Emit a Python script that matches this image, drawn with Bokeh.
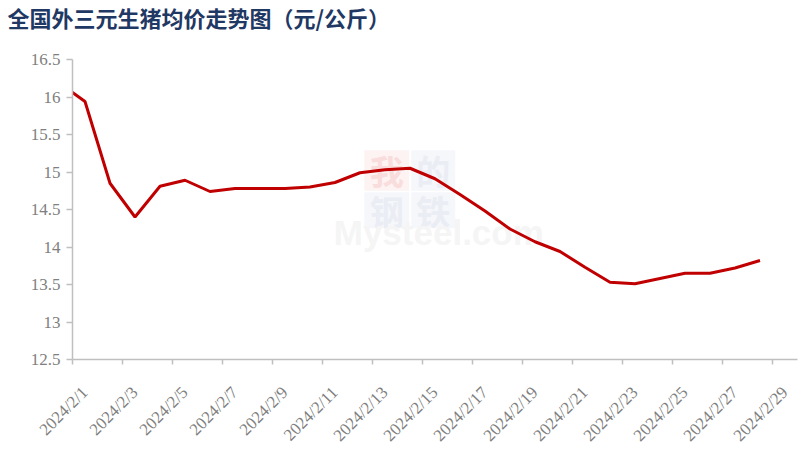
import math
import pandas as pd
from bokeh.plotting import figure
from bokeh.models import FixedTicker, Range1d, ColumnDataSource, Label, BoxAnnotation, Title
from bokeh.embed import file_html
from bokeh.resources import INLINE

# ---- data ----
dates = ["2024/1/31", "2024/2/1", "2024/2/2", "2024/2/3", "2024/2/4", "2024/2/5",
         "2024/2/6", "2024/2/7", "2024/2/8", "2024/2/9", "2024/2/10", "2024/2/11",
         "2024/2/12", "2024/2/13", "2024/2/14", "2024/2/15", "2024/2/16", "2024/2/17",
         "2024/2/18", "2024/2/19", "2024/2/20", "2024/2/21", "2024/2/22", "2024/2/23",
         "2024/2/24", "2024/2/25", "2024/2/26", "2024/2/27", "2024/2/28"]
prices = [16.18, 15.94, 14.85, 14.40, 14.81, 14.89,
          14.74, 14.78, 14.78, 14.78, 14.80, 14.86,
          14.99, 15.03, 15.05, 14.91, 14.70, 14.48,
          14.24, 14.07, 13.94, 13.73, 13.53, 13.51,
          13.58, 13.65, 13.65, 13.72, 13.82]
x_tick_labels = ["2024/2/1", "2024/2/3", "2024/2/5", "2024/2/7", "2024/2/9",
                 "2024/2/11", "2024/2/13", "2024/2/15", "2024/2/17", "2024/2/19",
                 "2024/2/21", "2024/2/23", "2024/2/25", "2024/2/27", "2024/2/29"]
y_ticks = [12.5, 13, 13.5, 14, 14.5, 15, 15.5, 16, 16.5]
y_tick_labels = ["12.5", "13", "13.5", "14", "14.5", "15", "15.5", "16", "16.5"]
title_text = "全国外三元生猪均价走势图（元/公斤）"

# ---- positions derived from the dates (day index, 2024/2/1 = 0) ----
origin = pd.Timestamp("2024-02-01")
x_vals = [(pd.Timestamp(d.replace("/", "-")) - origin).days for d in dates]
lab_x = [(pd.Timestamp(d.replace("/", "-")) - origin).days for d in x_tick_labels]
bounds = [v - 0.5 for v in lab_x]

src = ColumnDataSource(dict(x=x_vals, y=prices))

p = figure(width=802, height=455, output_backend="svg", toolbar_location=None,
           x_range=Range1d(lab_x[0] - 0.5, lab_x[-1] + 0.5),
           y_range=Range1d(y_ticks[0], y_ticks[-1]),
           min_border_left=72, min_border_right=5, min_border_top=59, min_border_bottom=96)
p.outline_line_color = None
p.grid.grid_line_color = None
p.background_fill_color = "white"
p.border_fill_color = "white"

# spacer panel between the title and the plot frame
p.add_layout(Title(text=" ", text_font_size="12px", text_color="white", standoff=9), "above")

# title
p.title.text = title_text
p.title.text_font = "Noto Sans CJK SC"
p.title.text_font_style = "bold"
p.title.text_font_size = "22px"
p.title.text_color = "#1f3864"
p.title.align = "left"
p.title.vertical_align = "top"
p.title.offset = -65
p.title.standoff = 0

# watermark (faint)
wm_boxes = [(11.17, 12.97, 14.75, 15.29, "#fdf3f3"), (13.05, 14.81, 14.75, 15.29, "#f6f7fb"),
            (11.17, 12.97, 14.25, 14.73, "#f6f7fb"), (13.05, 14.81, 14.25, 14.73, "#f6f7fb")]
for l, r, b, t, c in wm_boxes:
    p.add_layout(BoxAnnotation(left=l, right=r, bottom=b, top=t, fill_color=c,
                               fill_alpha=1.0, line_color=None, level="underlay"))
for ch, cx, cy, col in [("我", 12.07, 15.02, "#f9dcdc"), ("的", 13.93, 15.02, "#eaedf4"),
                        ("钢", 12.07, 14.49, "#eaedf4"), ("铁", 13.93, 14.49, "#eaedf4")]:
    p.add_layout(Label(x=cx, y=cy, text=ch, text_font="Noto Sans CJK SC",
                       text_font_size="34px", text_font_style="bold", text_color=col,
                       text_align="center", text_baseline="middle", level="underlay"))
p.add_layout(Label(x=9.95, y=13.93, text="Mysteel.com", text_font="Liberation Sans",
                   text_font_size="35px", text_font_style="bold", text_color="#f5f5f5",
                   level="underlay"))

# line
p.line("x", "y", source=src, line_color="#c00000", line_width=3)

axis_color = "#bfbfbf"
label_color = "#7f7f7f"

# x axis
xa = p.xaxis[0]
xa.ticker = FixedTicker(ticks=lab_x, minor_ticks=bounds)
xa.major_label_overrides = {float(v): s for v, s in zip(lab_x, x_tick_labels)}
xa.major_label_orientation = math.pi / 4
xa.major_tick_line_color = None
xa.major_tick_out = 5
xa.major_tick_in = 0
xa.minor_tick_line_color = axis_color
xa.minor_tick_line_width = 1.5
xa.minor_tick_out = 5
xa.minor_tick_in = 0
xa.axis_line_color = axis_color
xa.axis_line_width = 1.5
xa.major_label_text_font = "Liberation Serif"
xa.major_label_text_font_size = "17px"
xa.major_label_text_color = label_color
xa.major_label_standoff = 25

# y axis
ya = p.yaxis[0]
ya.ticker = FixedTicker(ticks=y_ticks, minor_ticks=[])
ya.major_label_overrides = {float(v): s for v, s in zip(y_ticks, y_tick_labels)}
ya.major_tick_line_color = axis_color
ya.major_tick_line_width = 1.5
ya.major_tick_out = 6
ya.major_tick_in = 0
ya.minor_tick_line_color = None
ya.axis_line_color = axis_color
ya.axis_line_width = 1.5
ya.major_label_text_font = "Liberation Serif"
ya.major_label_text_font_size = "17px"
ya.major_label_text_color = label_color
ya.major_label_standoff = 6

open("out.html", "w").write(file_html(p, INLINE))
